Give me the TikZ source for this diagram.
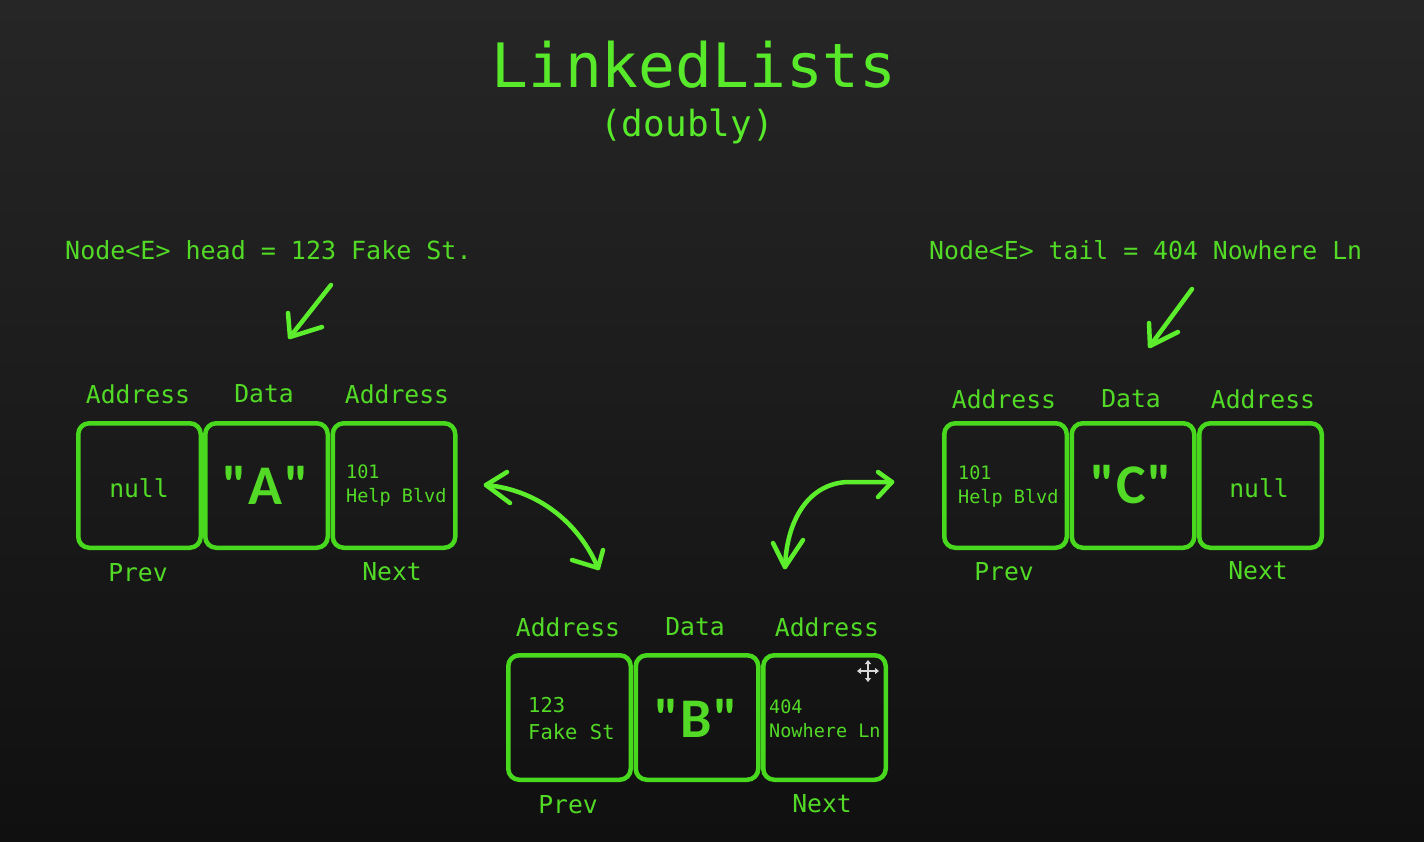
\documentclass[tikz,border=0pt]{standalone}
\usepackage{fontspec}
\setmonofont{DejaVu Sans Mono}
\newfontfamily\datafont{Carlito}
\usetikzlibrary{arrows.meta}
\definecolor{bgtop}{HTML}{262626}
\definecolor{bgbot}{HTML}{101010}
\definecolor{txtg}{HTML}{52DA26}
\definecolor{titleg}{HTML}{58EA2A}
\definecolor{boxg}{HTML}{48D81E}
\definecolor{arrg}{HTML}{5CEE2C}
\definecolor{curs}{HTML}{D8D8D8}
\tikzset{
  cell/.style={draw=boxg, line width=4.5pt, rounded corners=11pt, minimum width=122.5pt, minimum height=124.5pt, inner sep=0pt},
  lbl/.style={text=txtg, font=\ttfamily\fontsize{24.7}{28}\selectfont, inner sep=0pt},
  smalltxt/.style={text=txtg, font=\ttfamily\fontsize{18.5}{24}\selectfont, inner sep=0pt, align=left, anchor=west},
  midtxt/.style={text=txtg, font=\ttfamily\fontsize{20.5}{27}\selectfont, inner sep=0pt, align=left, anchor=west},
  bigtxt/.style={text=txtg, font=\datafont\bfseries\fontsize{56}{60}\selectfont, inner sep=0pt},
  hand/.style={draw=arrg, line width=4.5pt, line cap=round, line join=round},
  cursor/.style={draw=curs, line width=1.6pt, {Triangle[length=4pt,width=6pt]}-{Triangle[length=4pt,width=6pt]}}
}
\newcommand\qt[1]{"\kern1.5pt#1\kern1.5pt"}
\begin{document}
\begin{tikzpicture}[x=1pt,y=-1pt]
\useasboundingbox (0,0) rectangle (1424,841);
\fill[top color=bgtop, bottom color=bgbot] (0,0) rectangle (1424,841);

% title
\node[text=titleg, font=\ttfamily\fontsize{61.2}{66}\selectfont, inner sep=0pt] (title) at (694,65) {LinkedLists};
\node[text=titleg, font=\ttfamily\fontsize{36}{40}\selectfont, inner sep=0pt] (subtitle) at (687,126) {(doubly)};

% head / tail labels
\node[lbl, anchor=west, font=\ttfamily\fontsize{25}{28}\selectfont] (head) at (65,250) {Node<E> head = 123 Fake St.};
\node[lbl, anchor=west, font=\ttfamily\fontsize{24.8}{28}\selectfont] (tail) at (929,250) {Node<E> tail = 404 Nowhere Ln};

% ---- node A ----
\node[cell] (A1) at (139.5,485.5) {};
\node[cell] (A2) at (266.5,485.5) {};
\node[cell] (A3) at (394,485.5) {};
\node[lbl] (A1top) at (138,394) {Address};
\node[lbl] (A2top) at (264,394) {Data};
\node[lbl] (A3top) at (397,394) {Address};
\node[lbl] (A1bot) at (138,573) {Prev};
\node[lbl] (A3bot) at (392,572) {Next};
\node[lbl] (A1val) at (139,488) {null};
\node[bigtxt] (A2val) at (266,485) {\qt{A}};
\node[smalltxt] (A3val) at (346,486) {101\\Help Blvd};

% ---- node C ----
\node[cell] (C1) at (1005.5,485.5) {};
\node[cell] (C2) at (1133,485.5) {};
\node[cell] (C3) at (1260.5,485.5) {};
\node[lbl] (C1top) at (1004,399) {Address};
\node[lbl] (C2top) at (1131,399) {Data};
\node[lbl] (C3top) at (1263,399) {Address};
\node[lbl] (C1bot) at (1004,572) {Prev};
\node[lbl] (C3bot) at (1258,571) {Next};
\node[smalltxt] (C1val) at (958,487) {101\\Help Blvd};
\node[bigtxt] (C2val) at (1131,485) {\qt{C}};
\node[lbl] (C3val) at (1259,488) {null};

% ---- node B ----
\node[cell] (B1) at (569.5,717.5) {};
\node[cell] (B2) at (697,717.5) {};
\node[cell] (B3) at (824.5,717.5) {};
\node[lbl] (B1top) at (568,627) {Address};
\node[lbl] (B2top) at (695,627) {Data};
\node[lbl] (B3top) at (827,627) {Address};
\node[lbl] (B1bot) at (568,805) {Prev};
\node[lbl] (B3bot) at (822,804) {Next};
\node[midtxt] (B1val) at (528,719) {123\\Fake St};
\node[bigtxt] (B2val) at (696,718) {\qt{B}};
\node[smalltxt] (B3val) at (769,719) {404\\Nowhere Ln};

% ---- hand-drawn arrows ----
% head pointer
\coordinate (hs) at (331,285);
\coordinate (ht) at (290,337);
\draw[hand] (hs) -- (ht);
\draw[hand] (288,313) -- (ht) -- (322,327);
% tail pointer
\coordinate (ts) at (1192,289);
\coordinate (tt) at (1150,346);
\draw[hand] (ts) -- (tt);
\draw[hand] (1149,323) -- (tt) -- (1178,332);
% A <-> B
\coordinate (abA) at (486,485);
\coordinate (abB) at (598,568);
\draw[hand] (abA) .. controls (540,490) and (580,525) .. (abB);
\draw[hand] (507,472) -- (abA) -- (510,503);
\draw[hand] (572,560) -- (abB) -- (603,550);
% B <-> C
\coordinate (bcB) at (785,567);
\coordinate (bcC) at (892,482);
\coordinate (bcM) at (848,482);
\draw[hand] (bcB) .. controls (787,515) and (812,483) .. (bcM) -- (bcC);
\draw[hand] (878,472) -- (bcC) -- (878,497);
\draw[hand] (773,543) -- (bcB) -- (803,540);

% move cursor
\coordinate (cur) at (868,671);
\draw[cursor] ([xshift=-11pt]cur) -- ([xshift=11pt]cur);
\draw[cursor] ([yshift=-11pt]cur) -- ([yshift=11pt]cur);
\end{tikzpicture}
\end{document}
